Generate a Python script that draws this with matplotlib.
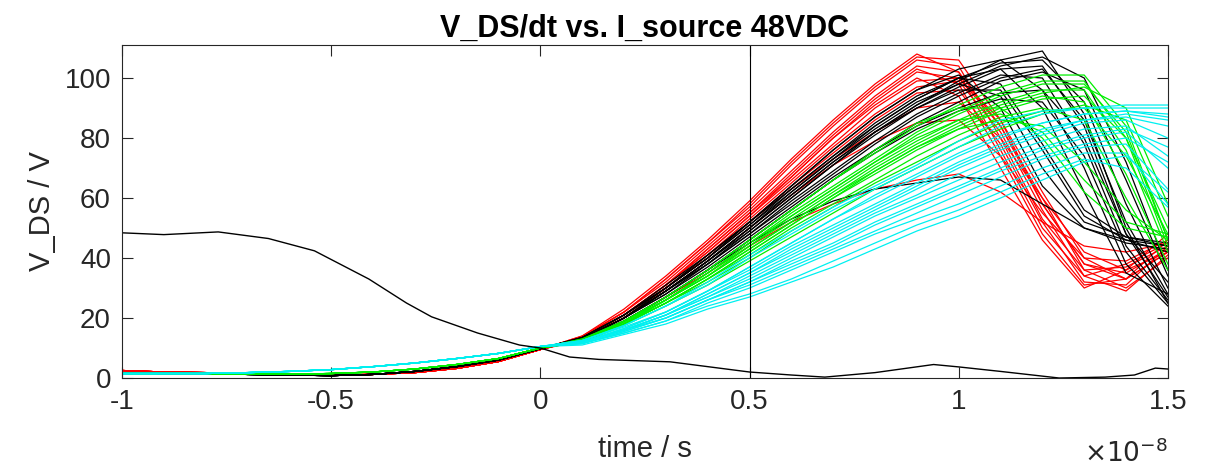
import numpy as np
import matplotlib.pyplot as plt

plt.rcParams['font.family'] = ['Liberation Sans', 'DejaVu Sans']

# time axis in units of 1e-8 s
t_early = [-1.0, -0.9, -0.8, -0.7, -0.6, -0.5, -0.4, -0.3, -0.2, -0.1, 0.0]
t_late = [0.1, 0.2, 0.3, 0.4, 0.5, 0.6, 0.7, 0.8, 0.9, 1.0, 1.1, 1.2, 1.3, 1.4, 1.5]

# shared start of each group (t = -1 .. 0)
red_early = [2.5, 2.0, 1.8, 1.5, 1.2, 1.0, 1.2, 1.8, 3.2, 5.5, 9.5]
black_early = [1.8, 1.5, 1.5, 1.2, 1.0, 0.8, 1.2, 2.2, 3.8, 6.0, 9.8]
green_early = [1.5, 1.5, 1.5, 1.3, 1.3, 1.5, 2.0, 3.0, 4.5, 6.5, 10.0]
cyan_early = [1.5, 1.5, 1.5, 1.8, 2.2, 2.8, 3.8, 5.0, 6.5, 8.2, 10.5]

# per-curve values at t = 0.1 .. 1.5
red_late = [
    [14, 23, 34, 46, 59, 73, 86, 98, 108, 102, 76, 50, 34, 38, 45],
    [14, 22, 33, 45, 57, 71, 84, 96, 106, 104, 80, 53, 36, 37, 44],
    [13.5, 22, 32, 44, 56, 69, 82, 94, 104, 102, 84, 58, 38, 35, 43],
    [13.5, 21, 31, 43, 55, 67, 80, 92, 102, 100, 86, 62, 40, 33, 42],
    [13, 21, 31, 42, 54, 66, 78, 90, 99, 100, 84, 60, 36, 30, 40],
    [13, 20, 30, 41, 53, 65, 77, 88, 97, 99, 82, 56, 34, 29, 41],
    [13, 20, 30, 40, 52, 64, 75, 86, 95, 96, 78, 52, 32, 31, 44],
    [13, 21, 31, 42, 54, 67, 80, 91, 100, 94, 70, 46, 30, 36, 48],
    [12.5, 19, 27, 35, 44, 52, 58, 63, 66, 68, 62, 52, 44, 42, 45],
    [13, 20, 29, 39, 50, 61, 71, 79, 85, 86, 74, 55, 40, 39, 46],
    [13.5, 22, 33, 45, 58, 72, 85, 97, 107, 106, 86, 58, 38, 33, 42],
    [13, 21, 31, 43, 55, 68, 81, 93, 103, 98, 74, 48, 31, 33, 46],
    [13, 20, 30, 41, 52, 63, 73, 82, 90, 92, 80, 60, 42, 36, 42],
]

black_late = [
    [13, 20, 28, 38, 49, 60, 71, 82, 91, 99, 106, 109, 88, 50, 25],
    [13.5, 21, 30, 40, 51, 63, 74, 84, 93, 100, 105, 106, 92, 58, 30],
    [13, 20, 29, 39, 50, 61, 72, 82, 90, 97, 103, 104, 84, 48, 27],
    [13.5, 21, 30, 40, 52, 64, 76, 87, 96, 103, 106, 96, 70, 38, 24],
    [13, 20, 29, 38, 48, 59, 69, 79, 88, 95, 101, 100, 78, 44, 26],
    [13, 20, 29, 39, 50, 62, 73, 84, 93, 100, 103, 90, 62, 35, 28],
    [13.5, 21, 31, 41, 52, 64, 76, 87, 96, 101, 90, 64, 50, 46, 44],
    [13, 20, 30, 40, 51, 62, 73, 83, 92, 98, 94, 70, 52, 47, 45],
    [13, 20, 29, 39, 49, 60, 71, 81, 90, 96, 96, 76, 54, 46, 42],
    [13, 19, 27, 36, 46, 56, 66, 76, 84, 90, 95, 96, 80, 48, 32],
    [12.5, 19, 27, 36, 45, 53, 59, 63, 65, 67, 66, 58, 50, 45, 43],
    [13, 20, 28, 37, 47, 57, 67, 76, 85, 92, 99, 102, 96, 66, 34],
    [13, 20, 29, 39, 50, 61, 72, 82, 91, 98, 104, 107, 100, 72, 36],
    [13, 20, 29, 38, 48, 58, 68, 78, 87, 94, 100, 103, 86, 52, 28],
    [13.5, 21, 30, 41, 52, 63, 74, 85, 94, 100, 98, 78, 56, 47, 44],
    [13, 19, 27, 36, 46, 56, 66, 75, 83, 89, 93, 92, 74, 42, 25],
]

green_late = [
    [13, 19, 27, 36, 46, 56, 66, 75, 84, 91, 97, 101, 101, 84, 46],
    [12.5, 19, 26, 35, 45, 55, 64, 73, 82, 89, 95, 99, 99, 80, 44],
    [12.5, 18, 26, 34, 44, 53, 62, 71, 79, 86, 92, 96, 96, 76, 42],
    [12.5, 18, 25, 33, 42, 51, 60, 69, 77, 84, 90, 94, 92, 68, 38],
    [12, 18, 25, 33, 41, 50, 58, 66, 74, 81, 87, 90, 86, 60, 36],
    [13, 19, 27, 36, 46, 56, 66, 76, 85, 90, 90, 80, 62, 50, 47],
    [12.5, 19, 26, 35, 44, 54, 63, 72, 80, 86, 88, 82, 66, 52, 48],
    [12, 18, 25, 32, 40, 49, 57, 65, 72, 79, 85, 89, 90, 74, 48],
    [12, 17.5, 24, 31, 39, 47, 55, 63, 70, 77, 83, 88, 91, 86, 54],
    [12.5, 18, 26, 34, 43, 52, 61, 70, 78, 85, 91, 95, 97, 90, 58],
    [12.5, 18.5, 26, 35, 45, 54, 63, 72, 81, 88, 94, 98, 98, 82, 46],
    [12, 18, 25, 33, 42, 51, 60, 68, 76, 83, 89, 93, 94, 80, 50],
    [12.5, 18, 26, 34, 43, 52, 61, 69, 77, 83, 86, 84, 72, 56, 46],
]

cyan_late = [
    [12.5, 17.5, 24, 32, 41, 49, 57, 64, 71, 79, 86, 89, 90, 91, 91],
    [12.5, 17.5, 24, 31, 40, 48, 56, 63, 70, 77, 84, 88, 90, 90, 90],
    [12.5, 17, 22, 29, 37, 45, 53, 60, 67, 74, 80, 85, 88, 89, 88],
    [12, 16.5, 22, 29, 36, 44, 51, 58, 65, 72, 78, 83, 86, 87, 84],
    [12, 16, 21, 28, 35, 42, 49, 56, 63, 70, 76, 81, 85, 86, 80],
    [12, 16, 21, 27, 34, 41, 48, 55, 61, 68, 74, 79, 83, 84, 74],
    [12, 16, 20, 26, 32, 39, 45, 52, 58, 64, 70, 76, 80, 82, 70],
    [11.5, 15.5, 20, 26, 31, 37, 43, 49, 55, 61, 67, 73, 77, 78, 63],
    [11.5, 15, 19, 25, 30, 36, 42, 48, 53, 58, 64, 70, 75, 75, 58],
    [11.5, 15, 19, 24, 28, 33, 39, 45, 51, 56, 62, 68, 73, 70, 57],
    [11, 14.5, 18, 23, 27, 32, 37, 43, 49, 54, 60, 66, 72, 74, 62],
    [12, 16, 21, 28, 35, 43, 50, 57, 64, 71, 77, 82, 86, 88, 86],
    [12, 16.5, 22, 29, 37, 45, 53, 61, 68, 75, 81, 85, 88, 89, 87],
    [11.5, 15.5, 20, 26, 32, 38, 44, 51, 57, 63, 69, 74, 78, 80, 72],
    [12, 16, 21, 27, 33, 40, 47, 54, 60, 66, 72, 77, 81, 83, 77],
]

# single falling trace
fall_t = [-1.0, -0.9, -0.77, -0.65, -0.54, -0.41, -0.32, -0.26, -0.15, -0.05, 0.0,
          0.07, 0.14, 0.31, 0.5, 0.6, 0.68, 0.8, 0.94, 1.0, 1.1, 1.24, 1.35, 1.42, 1.47, 1.5]
fall_v = [48.4, 47.8, 48.7, 46.5, 42.4, 33, 25, 20.4, 15, 11, 10,
          7, 6.2, 5.4, 2, 1, 0.3, 1.8, 4.5, 3.7, 2.2, 0, 0.3, 1, 3.3, 3]

groups = [
    (red_early, red_late, '#FF0000'),
    (black_early, black_late, '#000000'),
    (green_early, green_late, '#00EE00'),
    (cyan_early, cyan_late, '#00F0F0'),
]

fig = plt.figure(figsize=(12.14, 4.69), dpi=100)
ax = fig.add_axes([0.1005, 0.194, 0.8615, 0.71])

for early, late, col in groups:
    for curve in late:
        ax.plot(t_early + t_late, early + curve, color=col, lw=0.9)

ax.plot(fall_t, fall_v, color='k', lw=1.0)
ax.axvline(0.5, color='k', lw=0.8)

ax.set_xlim(-1, 1.5)
ax.set_ylim(0, 111)
ax.set_xticks([-1, -0.5, 0, 0.5, 1, 1.5])
ax.set_xticklabels(['-1', '-0.5', '0', '0.5', '1', '1.5'])
ax.set_yticks([0, 20, 40, 60, 80, 100])
ax.set_yticklabels(['0', '20', '40', '60', '80', '100'])

grey = '#262626'
ax.tick_params(direction='in', length=8, width=0.8, top=True, right=True,
               labelsize=20, colors=grey, pad=8)
for s in ax.spines.values():
    s.set_color(grey)
    s.set_linewidth(0.8)

ax.set_title('V_DS/dt vs. I_source 48VDC', fontsize=22, fontweight='bold', pad=6)
ax.set_xlabel('time / s', fontsize=21, color=grey, labelpad=14)
ax.set_ylabel('V_DS / V', fontsize=21, color=grey, labelpad=6)
fig.text(0.962, 0.005, r'$\times10^{-8}$', ha='right', va='bottom', fontsize=19, color=grey)

fig.savefig('out.png', dpi=100)
